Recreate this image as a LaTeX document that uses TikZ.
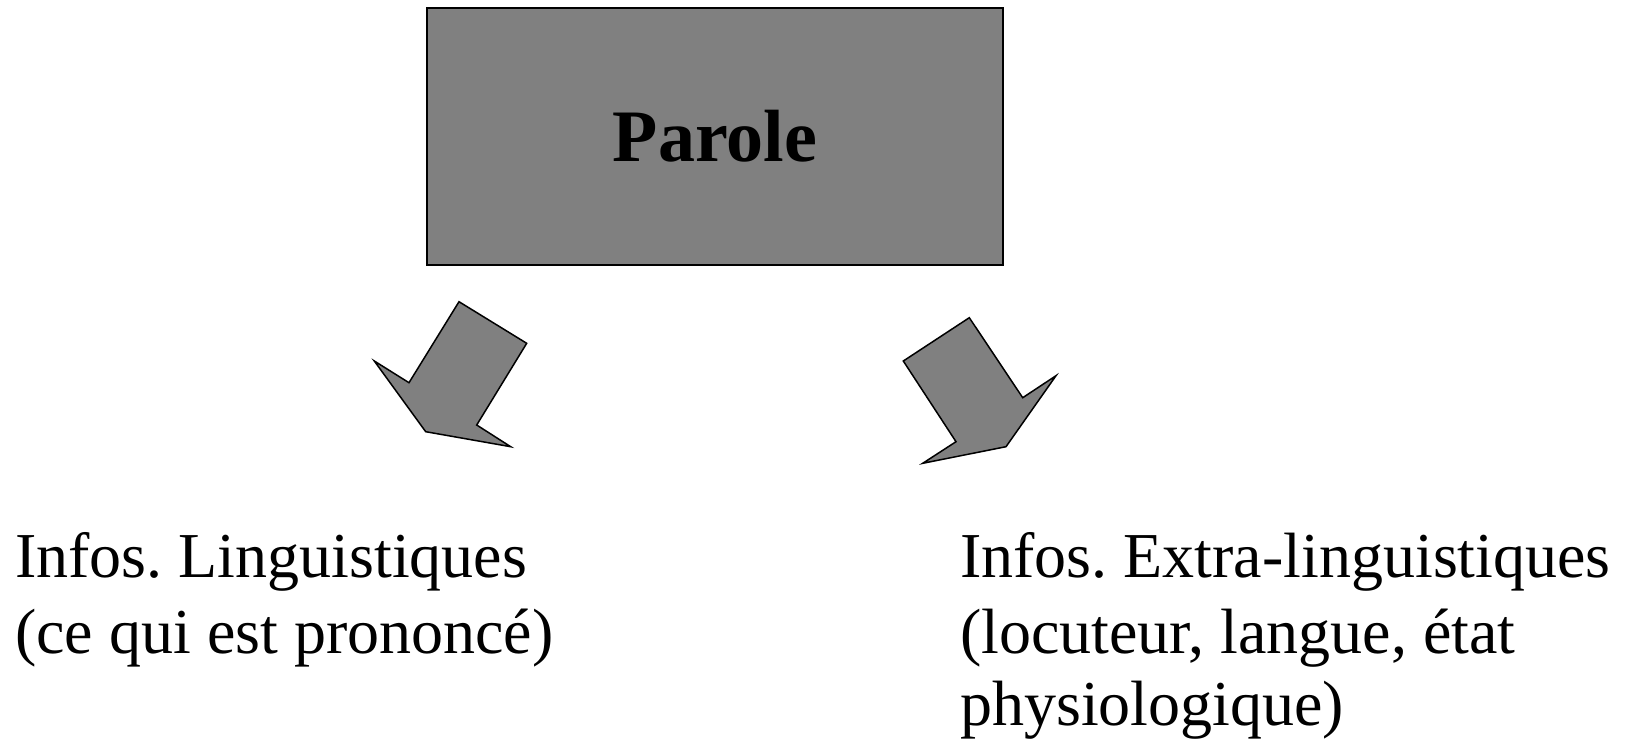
\documentclass[tikz,border=0pt]{standalone}
\usepackage{fontspec}
\setmainfont{Liberation Serif}
\frenchspacing
\definecolor{boxgray}{HTML}{808080}
\begin{document}
\begin{tikzpicture}[x=1pt,y=-1pt,
  blockarrow/.style={draw=black,fill=boxgray,line width=1.5pt,line join=miter},
  labeltext/.style={anchor=base west,inner sep=0pt,font=\fontsize{64}{76}\selectfont}]
  \useasboundingbox (0,0) rectangle (1625,742);
  % central box
  \node (parole) [draw=black,fill=boxgray,line width=1.5pt,minimum width=576pt,minimum height=257pt,inner sep=0pt,
    font=\fontsize{74}{80}\selectfont\bfseries] at (715,136.5) {\raisebox{-8pt}{Parole}};
  % left block arrow
  \draw[blockarrow] (459,301.7) -- (526.7,343.3) -- (476.7,425) -- (510.7,446.7)
    -- (425.7,431.7) -- (374.3,361) -- (409,382.7) -- cycle;
  % right block arrow
  \draw[blockarrow] (969.3,317.7) -- (1022.7,397.7) -- (1056,375.7) -- (1006,446.7)
    -- (922.7,463.3) -- (956,441.7) -- (903.3,361) -- cycle;
  % left label
  \node (ll1) [labeltext] at (15,577) {Infos. Linguistiques};
  \node (ll2) [labeltext] at (15,653) {(ce qui est prononcé)};
  % right label
  \node (rl1) [labeltext] at (960,577) {Infos. Extra-linguistiques};
  \node (rl2) [labeltext] at (960,653) {(locuteur, langue, état};
  \node (rl3) [labeltext] at (960,725) {physiologique)};
\end{tikzpicture}
\end{document}
